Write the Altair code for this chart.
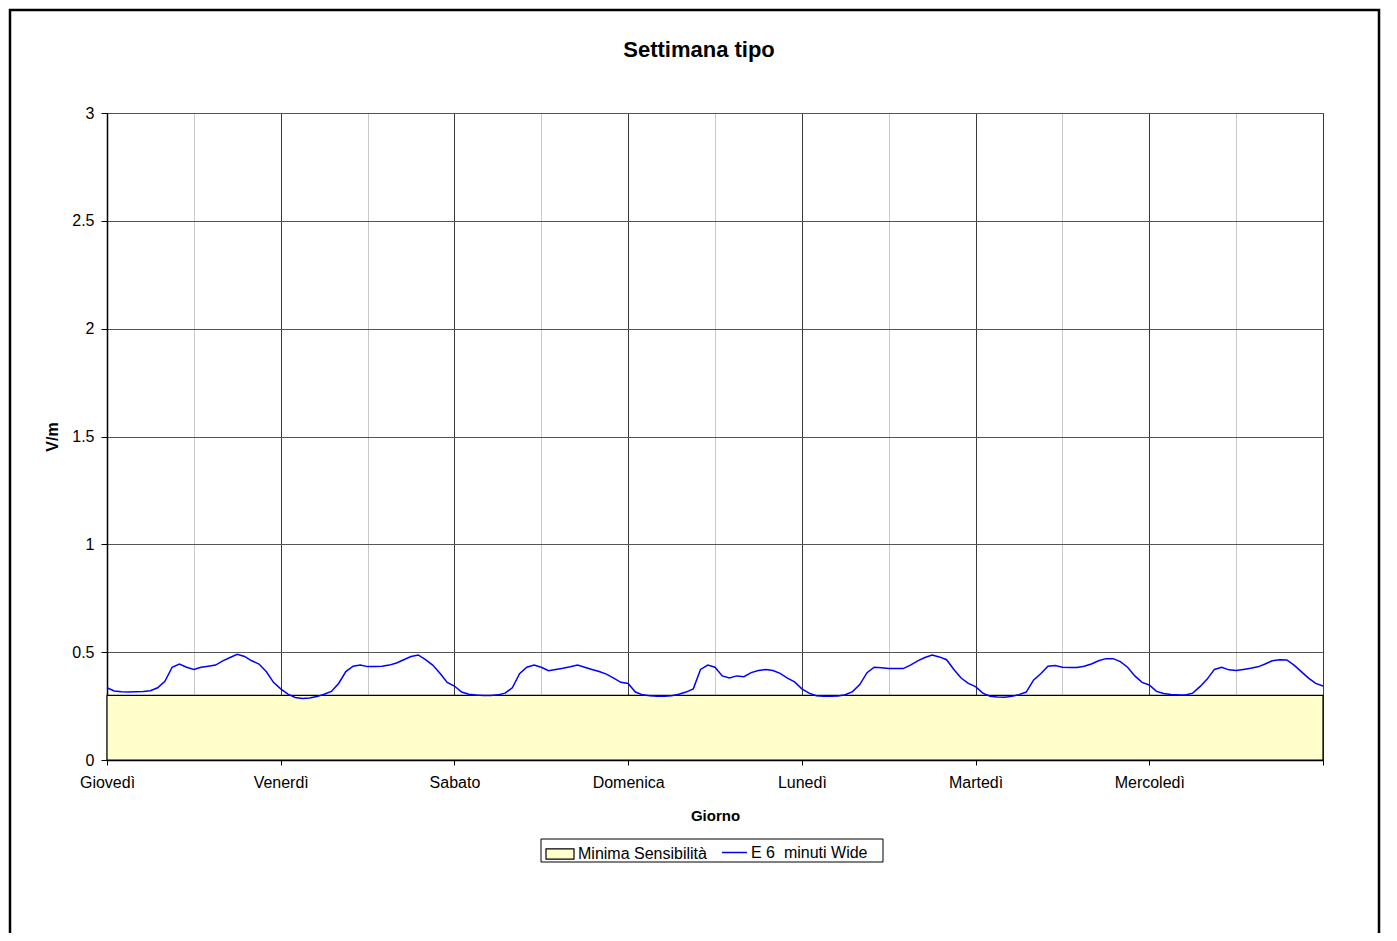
import altair as alt
import pandas as pd

FONT = "Liberation Sans"

giorni = ["Giovedì", "Venerdì", "Sabato", "Domenica", "Lunedì", "Martedì", "Mercoledì"]

# hourly readings (h 0..23) of the 6-minute E field, V/m
giovedi = [0.335, 0.320, 0.317, 0.315, 0.317, 0.318, 0.321, 0.335, 0.365, 0.430, 0.445, 0.430,
           0.420, 0.430, 0.435, 0.440, 0.460, 0.475, 0.490, 0.480, 0.460, 0.445, 0.410, 0.360]
venerdi = [0.330, 0.305, 0.290, 0.285, 0.288, 0.294, 0.305, 0.318, 0.355, 0.410, 0.435, 0.440,
           0.433, 0.433, 0.435, 0.440, 0.450, 0.465, 0.480, 0.487, 0.465, 0.440, 0.402, 0.360]
sabato = [0.343, 0.315, 0.305, 0.301, 0.299, 0.299, 0.302, 0.310, 0.335, 0.400, 0.430, 0.440,
          0.430, 0.414, 0.420, 0.425, 0.432, 0.440, 0.430, 0.420, 0.410, 0.398, 0.380, 0.360]
domenica = [0.355, 0.315, 0.302, 0.298, 0.296, 0.296, 0.298, 0.305, 0.315, 0.330, 0.420, 0.440,
            0.430, 0.390, 0.380, 0.390, 0.386, 0.405, 0.415, 0.420, 0.415, 0.402, 0.380, 0.362]
lunedi = [0.330, 0.310, 0.298, 0.296, 0.296, 0.297, 0.303, 0.317, 0.350, 0.405, 0.430, 0.428,
          0.424, 0.424, 0.424, 0.440, 0.460, 0.475, 0.487, 0.478, 0.465, 0.420, 0.380, 0.355]
martedi = [0.340, 0.310, 0.296, 0.292, 0.291, 0.295, 0.303, 0.315, 0.370, 0.400, 0.435, 0.438,
           0.430, 0.429, 0.429, 0.435, 0.445, 0.460, 0.470, 0.470, 0.456, 0.430, 0.390, 0.360]
mercoledi = [0.348, 0.318, 0.308, 0.304, 0.302, 0.301, 0.310, 0.340, 0.375, 0.420, 0.430, 0.418,
             0.415, 0.420, 0.425, 0.432, 0.445, 0.460, 0.465, 0.464, 0.440, 0.410, 0.380, 0.355]
fine_settimana = 0.343

soglia = 0.3
serie_linea = "E 6 \u00a0minuti Wide"
serie_area = "Minima Sensibilità"

settimana = [giovedi, venerdi, sabato, domenica, lunedi, martedi, mercoledi]
rows = []
for d, vals in enumerate(settimana):
    for h, v in enumerate(vals):
        rows.append({"t": d * 24 + h, "E": v, "serie": serie_linea})
rows.append({"t": 168, "E": fine_settimana, "serie": serie_linea})
line_df = pd.DataFrame(rows)
area_df = pd.DataFrame({"t": [0, 168], "v": [soglia, soglia], "serie": [serie_area, serie_area]})

names_js = "[" + ",".join("'" + g + "'" for g in giorni) + "]"
is_day = "datum.value % 24 === 0"

x_axis = alt.Axis(
    values=list(range(0, 169, 12)),
    labelExpr=f"({is_day} && datum.value < 168) ? {names_js}[datum.value / 24] : ''",
    title="Giorno",
    titleFont=FONT, titleFontSize=15, titleFontWeight="bold", titleColor="black",
    titleY=60, titleBaseline="alphabetic",
    labelFont=FONT, labelFontSize=16, labelColor="black", labelPadding=9,
    labelFlush=False,
    tickSize=5, tickColor="black",
    tickOpacity={"condition": {"test": is_day, "value": 1}, "value": 0},
    gridColor={"condition": {"test": is_day, "value": "#3a3a3a"}, "value": "#c8c8c8"},
    gridWidth=1,
    domainColor="black", domainWidth=1.5,
)
x = alt.X("t:Q", scale=alt.Scale(domain=[0, 168], nice=False, zero=False), axis=x_axis)

y_axis = alt.Axis(
    values=[0, 0.5, 1, 1.5, 2, 2.5, 3], format="~g",
    title="V/m", titleFont=FONT, titleFontSize=16, titleFontWeight="bold", titleColor="black",
    titleAngle=270, titleX=-50, titleY=323.5, titleBaseline="alphabetic", titleAlign="center",
    labelFont=FONT, labelFontSize=16, labelColor="black", labelPadding=7,
    tickSize=6, tickColor="black",
    gridColor="#555555", gridWidth=1,
    domainColor="black", domainWidth=1.5,
)

area = alt.Chart(area_df).mark_area(stroke="black", strokeWidth=1.2, opacity=1).encode(
    x=x,
    y=alt.Y("v:Q", scale=alt.Scale(domain=[0, 3], nice=False), axis=y_axis),
    fill=alt.Fill("serie:N", scale=alt.Scale(domain=[serie_area], range=["#FFFFCC"]),
                  legend=alt.Legend(orient="none", legendX=438, legendY=726, title=None,
                                    symbolType="M-1,-0.36L1,-0.36L1,0.36L-1,0.36Z",
                                    symbolSize=784, symbolStrokeColor="black",
                                    symbolStrokeWidth=1.2, symbolOpacity=1,
                                    labelFont=FONT, labelFontSize=16, labelColor="black",
                                    labelOffset=3, padding=0)),
)

line = alt.Chart(line_df).mark_line(strokeWidth=1.5).encode(
    x=x,
    y=alt.Y("E:Q", scale=alt.Scale(domain=[0, 3], nice=False)),
    stroke=alt.Stroke("serie:N", scale=alt.Scale(domain=[serie_linea], range=["#0000FF"]),
                      legend=alt.Legend(orient="none", legendX=614, legendY=726, title=None,
                                        symbolType="stroke", symbolSize=625,
                                        symbolStrokeWidth=1.5,
                                        labelFont=FONT, labelFontSize=16, labelColor="black",
                                        labelOffset=3, padding=0)),
)

one = pd.DataFrame({"k": [0]})
legend_box = alt.Chart(one).mark_rect(fill="white", fillOpacity=0, stroke="black", strokeWidth=1).encode(
    x=alt.value(434), x2=alt.value(776), y=alt.value(726), y2=alt.value(749)
)
frame = alt.Chart(one).mark_rect(fill="white", fillOpacity=0, stroke="black", strokeWidth=2.5).encode(
    x=alt.value(-97), x2=alt.value(1272), y=alt.value(-103), y2=alt.value(840)
)

chart = alt.layer(area, line, legend_box, frame).resolve_scale(
    fill="independent", stroke="independent"
).properties(
    width=1216, height=647,
    title=alt.TitleParams("Settimana tipo", font=FONT, fontSize=22, fontWeight="bold",
                          color="black", anchor="middle", baseline="alphabetic",
                          offset=51, dx=-16, dy=121),
    padding={"left": 99, "top": 105, "right": 65, "bottom": 173},
    autosize=alt.AutoSizeParams(type="none"),
    background="white",
).configure_view(stroke="#555555", strokeWidth=1)

chart.save("out.html", embed_options={"renderer": "svg", "actions": False})
